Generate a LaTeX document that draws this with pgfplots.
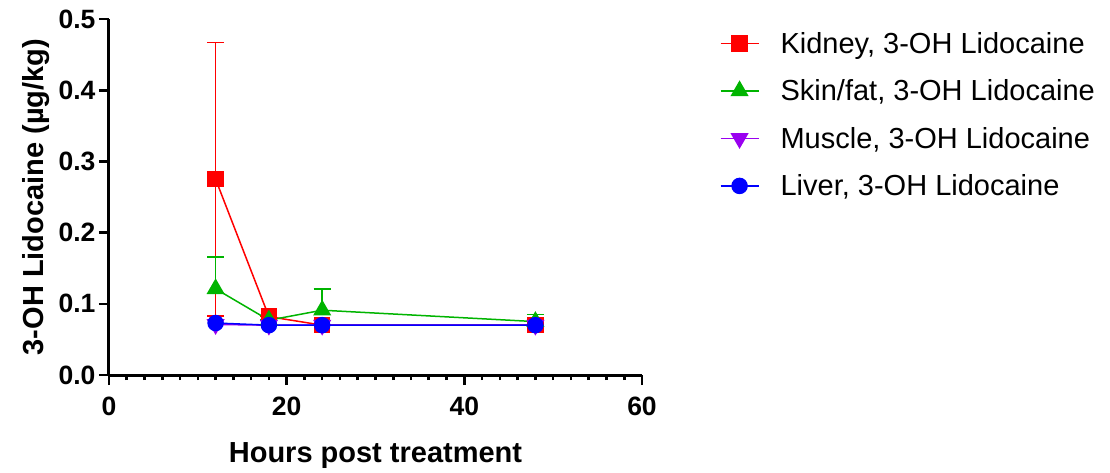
\documentclass[border=0pt]{standalone}
\usepackage{pgfplots}
\pgfplotsset{compat=1.18}
\usepackage{fontspec}
\setmainfont{Liberation Sans}
\definecolor{kred}{HTML}{FF0000}
\definecolor{sgreen}{HTML}{00B400}
\definecolor{mpurple}{HTML}{9A00F0}
\definecolor{lblue}{HTML}{0000FF}

\begin{document}
\begin{tikzpicture}
\begin{axis}[
  scale only axis,
  width=533pt, height=356pt,
  xmin=0, xmax=60, ymin=0, ymax=0.5,
  axis lines*=left,
  axis line style={line width=3pt},
  xtick={0,20,40,60},
  minor x tick num=9,
  ytick={0,0.1,0.2,0.3,0.4,0.5},
  tick align=outside,
  tick style={line width=2.6pt, black},
  major tick length=10pt,
  minor tick length=5pt,
  /pgf/number format/assume math mode=true,
  yticklabel style={/pgf/number format/.cd, fixed, fixed zerofill, precision=1},
  ticklabel style={font=\bfseries\fontsize{26.5}{26.5}\selectfont},
  xticklabel style={yshift=-8pt},
  xlabel={\bfseries Hours post treatment},
  ylabel={\bfseries 3-OH Lidocaine (µg/kg)},
  label style={font=\fontsize{29}{29}\selectfont},
  xlabel style={yshift=-20pt},
  ylabel style={yshift=2pt},
  legend style={at={(1.14,0.975)}, anchor=north west, draw=none,
    font=\fontsize{29}{29}\selectfont, row sep=21pt},
  legend cell align=left,
  legend image code/.code={
    \path[draw=none, fill=none] (0pt,0pt) -- (58pt,0pt);
    \draw[#1, line width=1.5pt] (0pt,0pt) -- (38pt,0pt);
    \draw[#1, only marks] plot coordinates {(19pt,0pt)};
  },
  every axis plot/.append style={line width=1.5pt},
  error bars/error bar style={line width=1.5pt},
  error bars/error mark options={rotate=90, mark size=8.5pt, line width=1.5pt},
]
\addplot[kred, mark=square*, mark size=7.5pt,
  error bars/.cd, y dir=both, y explicit]
  coordinates {
  (12,0.275) +- (0,0.192)
  (18,0.082) +- (0,0)
  (24,0.070) +- (0,0)
  (48,0.070) +- (0,0)
};
\addlegendentry{Kidney, 3-OH Lidocaine}
\addplot[sgreen, mark=triangle*, mark size=9pt,
  error bars/.cd, y dir=plus, y explicit]
  coordinates {
  (12,0.121) +- (0,0.045)
  (18,0.077) +- (0,0)
  (24,0.091) +- (0,0.030)
  (48,0.075) +- (0,0.010)
};
\addlegendentry{Skin/fat, 3-OH Lidocaine}
\addplot[mpurple, mark=triangle*, mark options={rotate=180}, mark size=9pt]
  coordinates {
  (12,0.071) (18,0.070) (24,0.070) (48,0.070)
};
\addlegendentry{Muscle, 3-OH Lidocaine}
\addplot[lblue, mark=*, mark size=7.5pt]
  coordinates {
  (12,0.073) (18,0.070) (24,0.070) (48,0.070)
};
\addlegendentry{Liver, 3-OH Lidocaine}
\end{axis}
\pgfresetboundingbox
\useasboundingbox (-109pt,-97pt) rectangle (1001pt,375pt);
\end{tikzpicture}
\end{document}
